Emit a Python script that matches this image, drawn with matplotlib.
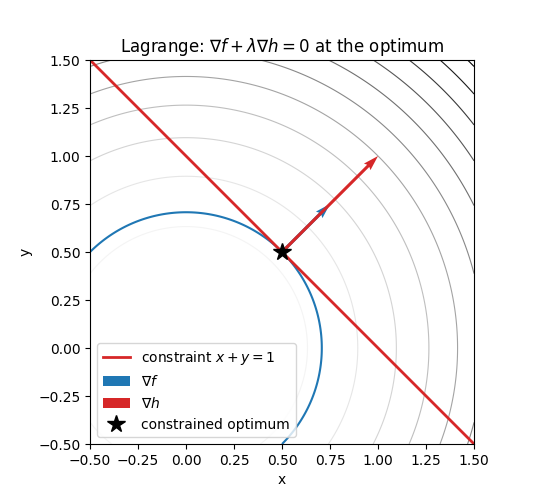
import matplotlib
matplotlib.use("Agg")
import matplotlib.pyplot as plt
import numpy as np

x_range = [-0.5, 1.5]
y_range = [-0.5, 1.5]
opt_point = [0.5, 0.5]
grad_f = [0.25, 0.25]
grad_h = [0.5, 0.5]
levels = [0.0, 0.4, 0.8, 1.2, 1.6, 2.0, 2.4, 2.8, 3.2, 3.6, 4.0, 4.4]

xs = np.linspace(x_range[0], x_range[1], 300)
ys = np.linspace(y_range[0], y_range[1], 300)
X, Y = np.meshgrid(xs, ys)
F = X**2 + Y**2
f_opt = opt_point[0] ** 2 + opt_point[1] ** 2

fig, ax = plt.subplots(figsize=(5.5, 5.0), dpi=100)
fig.subplots_adjust(left=0.1636, right=0.862, top=0.88, bottom=0.112)
ax.contour(X, Y, F, levels=levels, cmap="Greys", linewidths=0.8)
ax.contour(X, Y, F, levels=[f_opt], colors="#1f77b4", linewidths=1.5)
ax.plot(xs, 1 - xs, color="#d62728", lw=2, label="constraint $x+y=1$")
ax.quiver(*opt_point, *grad_f, angles="xy", scale_units="xy", scale=1,
          color="#1f77b4", width=0.008, label=r"$\nabla f$", zorder=3)
ax.quiver(*opt_point, *grad_h, angles="xy", scale_units="xy", scale=1,
          color="#d62728", width=0.008, label=r"$\nabla h$", zorder=4)
ax.plot(*opt_point, "k*", ms=13, label="constrained optimum", zorder=5)
ax.set_xlim(x_range)
ax.set_ylim(y_range)
ax.set_aspect("equal")
ax.set_xlabel("x")
ax.set_ylabel("y")
ax.set_title(r"Lagrange: $\nabla f + \lambda \nabla h = 0$ at the optimum")
ax.legend(loc="lower left")
fig.savefig("out.png")
